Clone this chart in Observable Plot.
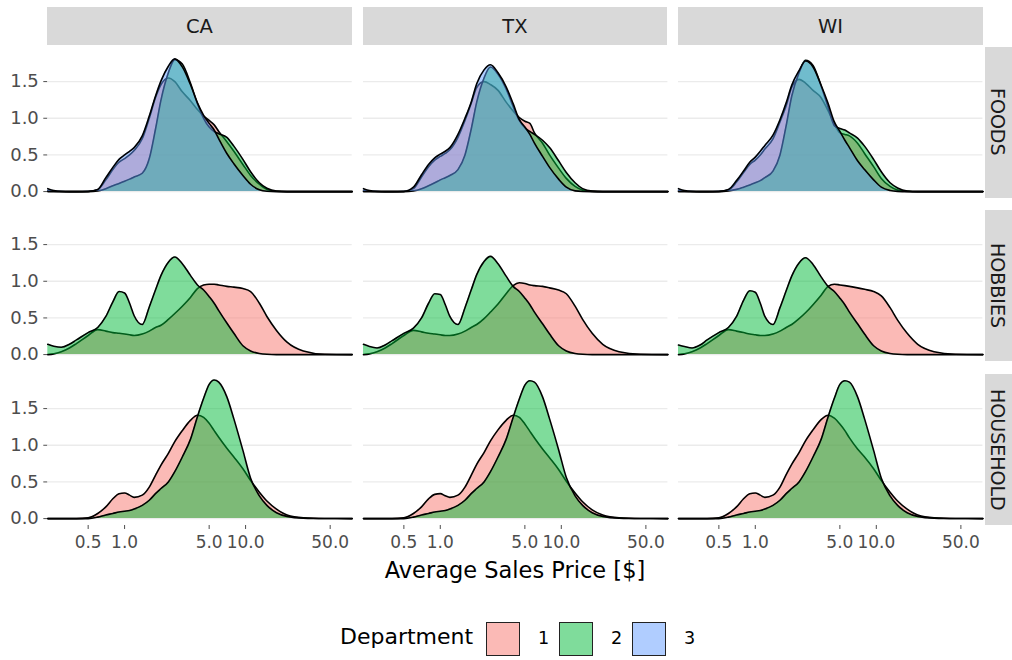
<!DOCTYPE html>
<html>
<head>
<meta charset="utf-8">
<script src="https://cdn.jsdelivr.net/npm/d3@7"></script>
<script src="https://cdn.jsdelivr.net/npm/@observablehq/plot@0.6"></script>
<style>
  body { margin: 0; background: #fff; }
  #chart { position: relative; width: 1012px; height: 660px; overflow: hidden; font-family: "DejaVu Sans", sans-serif; background: #fff; }
  .strip { position: absolute; background: #D9D9D9; color: #1A1A1A; font-size: 19.5px; display: flex; align-items: center; justify-content: center; }
  .strip.right { writing-mode: vertical-rl; font-size: 19px; }
  .txt { position: absolute; line-height: 1; white-space: nowrap; }
  .key { position: absolute; width: 32px; height: 32px; border: 1.6px solid #222; }
</style>
</head>
<body>
<div id="chart"></div>
<script>
// ---- data ----
const prices = [0.232, 0.26, 0.3, 0.35, 0.4, 0.5, 0.6, 0.7, 0.8, 0.9, 1.0, 1.1, 1.2, 1.4, 1.6, 1.8, 2.0, 2.3, 2.6, 3.0, 3.5, 4.0, 4.5, 5.0, 5.5, 6.0, 7.0, 8.0, 9.5, 11, 13, 15, 18, 22, 30, 45, 76];
const yTicks = [0, 0.5, 1.0, 1.5];
const xTicks = [0.5, 1, 5, 10, 50];
const states = ["CA", "TX", "WI"];
const categories = ["FOODS", "HOBBIES", "HOUSEHOLD"];
const departments = ["1", "2", "3"];
const deptColors = ["#F8766D", "#00BA38", "#619CFF"];

const CA_FOODS_1 = [0.01,0.005,0.001,0,0,0.002,0.025,0.16,0.3,0.4,0.45,0.5,0.56,0.72,1.0,1.28,1.46,1.55,1.5,1.36,1.24,1.12,1.03,0.97,0.91,0.82,0.68,0.55,0.37,0.22,0.1,0.03,0.004,0,0,0,0];
const CA_FOODS_2 = [0,0,0,0,0,0,0.01,0.04,0.08,0.11,0.14,0.17,0.2,0.25,0.45,0.85,1.25,1.62,1.8,1.74,1.48,1.2,1.0,0.88,0.82,0.79,0.74,0.62,0.44,0.27,0.12,0.045,0.006,0,0,0,0];
const CA_FOODS_3 = [0.04,0.015,0.003,0,0,0.003,0.03,0.19,0.33,0.44,0.5,0.55,0.6,0.76,1.03,1.3,1.51,1.71,1.81,1.7,1.46,1.21,1.04,0.93,0.84,0.72,0.52,0.38,0.22,0.1,0.025,0.005,0,0,0,0,0];

const TX_FOODS_1 = [0.01,0.005,0.001,0,0,0.002,0.04,0.2,0.34,0.43,0.48,0.52,0.57,0.74,0.97,1.2,1.42,1.5,1.46,1.38,1.22,1.1,1.01,0.96,0.93,0.8,0.66,0.5,0.32,0.18,0.07,0.02,0.003,0,0,0,0];
const TX_FOODS_2 = [0,0,0,0,0,0,0.01,0.04,0.08,0.12,0.16,0.19,0.22,0.3,0.5,0.85,1.22,1.55,1.7,1.6,1.4,1.16,0.97,0.87,0.82,0.78,0.7,0.6,0.42,0.26,0.12,0.04,0.006,0,0,0,0];
const TX_FOODS_3 = [0.04,0.015,0.003,0,0,0.003,0.06,0.23,0.37,0.46,0.51,0.55,0.6,0.78,1.0,1.22,1.47,1.66,1.73,1.62,1.43,1.2,0.98,0.88,0.78,0.66,0.48,0.33,0.17,0.06,0.01,0.002,0,0,0,0,0];

const WI_FOODS_1 = [0.01,0.005,0.001,0,0,0.002,0.02,0.13,0.26,0.37,0.43,0.5,0.58,0.72,0.95,1.17,1.42,1.53,1.48,1.38,1.28,1.1,0.92,0.8,0.78,0.76,0.66,0.52,0.34,0.18,0.07,0.02,0.003,0,0,0,0];
const WI_FOODS_2 = [0,0,0,0,0,0,0.01,0.03,0.06,0.09,0.12,0.15,0.19,0.28,0.5,0.9,1.3,1.62,1.79,1.72,1.44,1.15,0.9,0.86,0.84,0.8,0.73,0.62,0.44,0.27,0.12,0.05,0.008,0,0,0,0];
const WI_FOODS_3 = [0.04,0.015,0.003,0,0,0.003,0.03,0.15,0.28,0.4,0.47,0.55,0.63,0.77,0.98,1.21,1.45,1.65,1.78,1.7,1.45,1.2,0.95,0.82,0.7,0.6,0.42,0.3,0.16,0.06,0.015,0.003,0,0,0,0,0];

const CA_HOBBIES_1 = [0,0.01,0.04,0.09,0.15,0.26,0.34,0.32,0.3,0.29,0.28,0.27,0.26,0.28,0.32,0.37,0.4,0.48,0.56,0.66,0.78,0.9,0.95,0.96,0.96,0.95,0.93,0.92,0.9,0.86,0.7,0.52,0.33,0.17,0.05,0.005,0];
const CA_HOBBIES_2 = [0.14,0.115,0.1,0.14,0.2,0.3,0.37,0.52,0.72,0.86,0.84,0.7,0.53,0.41,0.65,0.88,1.08,1.26,1.33,1.24,1.08,0.95,0.88,0.79,0.7,0.6,0.43,0.29,0.12,0.05,0.015,0.004,0,0,0,0,0];

const TX_HOBBIES_1 = [0,0.01,0.04,0.09,0.15,0.26,0.33,0.31,0.29,0.28,0.27,0.26,0.26,0.28,0.32,0.37,0.41,0.49,0.58,0.69,0.83,0.94,0.98,0.97,0.95,0.94,0.93,0.91,0.88,0.83,0.66,0.48,0.29,0.14,0.04,0.004,0];
const TX_HOBBIES_2 = [0.14,0.11,0.09,0.13,0.19,0.29,0.36,0.5,0.7,0.83,0.82,0.68,0.52,0.41,0.64,0.88,1.09,1.27,1.34,1.24,1.07,0.93,0.86,0.77,0.68,0.58,0.42,0.28,0.12,0.05,0.015,0.004,0,0,0,0,0];

const WI_HOBBIES_1 = [0,0.01,0.04,0.09,0.15,0.26,0.34,0.32,0.3,0.28,0.27,0.26,0.26,0.28,0.32,0.37,0.41,0.49,0.57,0.68,0.81,0.93,0.96,0.95,0.94,0.93,0.91,0.89,0.86,0.8,0.64,0.47,0.29,0.14,0.04,0.004,0];
const WI_HOBBIES_2 = [0.13,0.11,0.09,0.13,0.2,0.3,0.37,0.52,0.74,0.87,0.85,0.7,0.52,0.41,0.64,0.87,1.07,1.25,1.32,1.23,1.06,0.93,0.86,0.77,0.68,0.58,0.42,0.28,0.12,0.05,0.015,0.004,0,0,0,0,0];

const CA_HOUSEHOLD_1 = [0,0,0,0,0,0.01,0.07,0.16,0.27,0.34,0.35,0.32,0.29,0.32,0.43,0.59,0.73,0.89,1.05,1.2,1.34,1.41,1.38,1.3,1.2,1.11,0.96,0.84,0.68,0.52,0.36,0.24,0.13,0.05,0.012,0.002,0];
const CA_HOUSEHOLD_2 = [0,0,0,0,0,0,0.02,0.05,0.07,0.09,0.1,0.11,0.13,0.18,0.25,0.34,0.41,0.5,0.64,0.84,1.08,1.39,1.64,1.83,1.89,1.86,1.66,1.36,0.93,0.55,0.31,0.18,0.08,0.03,0.006,0.001,0];

const TX_HOUSEHOLD_1 = [0,0,0,0,0,0.01,0.07,0.16,0.27,0.33,0.34,0.31,0.29,0.32,0.43,0.59,0.74,0.9,1.06,1.21,1.34,1.41,1.38,1.29,1.19,1.1,0.95,0.83,0.67,0.51,0.35,0.23,0.12,0.05,0.012,0.002,0];
const TX_HOUSEHOLD_2 = [0,0,0,0,0,0,0.02,0.05,0.07,0.09,0.1,0.11,0.13,0.18,0.25,0.34,0.41,0.5,0.64,0.84,1.08,1.38,1.63,1.82,1.88,1.86,1.66,1.36,0.94,0.56,0.31,0.18,0.08,0.03,0.006,0.001,0];

const WI_HOUSEHOLD_1 = [0,0,0,0,0,0.01,0.07,0.16,0.27,0.34,0.35,0.32,0.29,0.32,0.43,0.6,0.74,0.9,1.06,1.21,1.35,1.41,1.37,1.29,1.2,1.1,0.95,0.84,0.68,0.52,0.36,0.24,0.13,0.05,0.012,0.002,0];
const WI_HOUSEHOLD_2 = [0,0,0,0,0,0,0.02,0.05,0.07,0.09,0.1,0.11,0.13,0.18,0.25,0.34,0.41,0.5,0.64,0.84,1.08,1.39,1.64,1.83,1.88,1.86,1.66,1.36,0.93,0.55,0.31,0.18,0.08,0.03,0.006,0.001,0];

const densities = {
  CA: {FOODS: [CA_FOODS_1, CA_FOODS_2, CA_FOODS_3], HOBBIES: [CA_HOBBIES_1, CA_HOBBIES_2], HOUSEHOLD: [CA_HOUSEHOLD_1, CA_HOUSEHOLD_2]},
  TX: {FOODS: [TX_FOODS_1, TX_FOODS_2, TX_FOODS_3], HOBBIES: [TX_HOBBIES_1, TX_HOBBIES_2], HOUSEHOLD: [TX_HOUSEHOLD_1, TX_HOUSEHOLD_2]},
  WI: {FOODS: [WI_FOODS_1, WI_FOODS_2, WI_FOODS_3], HOBBIES: [WI_HOBBIES_1, WI_HOBBIES_2], HOUSEHOLD: [WI_HOUSEHOLD_1, WI_HOUSEHOLD_2]}
};

// ---- layout ----
const colLeft = [47.3, 362.7, 678.3];
const panelW = 304.4;
const rowTop = [46.5, 210.4, 374.3];
const panelH = 151;
const chart = document.getElementById("chart");
const fmt1 = d => d.toFixed(1);

function addDiv(cls, text, css) {
  const d = document.createElement("div");
  d.className = cls;
  d.textContent = text;
  Object.assign(d.style, css);
  chart.appendChild(d);
  return d;
}

categories.forEach((cat, r) => {
  states.forEach((st, c) => {
    const ml = c === 0 ? colLeft[0] : 0;
    const mb = r === 2 ? 40 : 0;
    const marks = [Plot.ruleY(yTicks, {stroke: "#EBEBEB", strokeWidth: 1.3})];
    densities[st][cat].forEach((vals, i) => {
      const rows = prices.map((p, j) => ({price: p, density: vals[j], dept: departments[i]}));
      marks.push(Plot.areaY(rows, {x: "price", y: "density", fill: deptColors[i], fillOpacity: 0.5, curve: "monotone-x"}));
      marks.push(Plot.lineY(rows, {x: "price", y: "density", stroke: "#000", strokeWidth: 1.6, curve: "monotone-x"}));
    });
    if (r === 2) {
      marks.push(Plot.text(xTicks, {x: d => d, text: fmt1, frameAnchor: "bottom", lineAnchor: "top", dy: 10, fill: "#4D4D4D", fontSize: 17}));
    }
    const svg = Plot.plot({
      width: panelW + ml,
      height: panelH + mb,
      marginLeft: ml, marginRight: 0, marginTop: 0, marginBottom: mb,
      x: {type: "log", domain: [0.232, 76], ticks: xTicks, tickFormat: () => "", tickSize: 4, tickPadding: 6, label: null, axis: r === 2 ? "bottom" : null},
      y: {domain: [-0.094, 1.965], ticks: yTicks, tickFormat: fmt1, tickSize: 4, tickPadding: 5, label: null, axis: c === 0 ? "left" : null},
      style: {fontFamily: "DejaVu Sans, sans-serif", fontSize: "18px", color: "#4D4D4D", background: "transparent", overflow: "visible"},
      marks
    });
    svg.style.position = "absolute";
    svg.style.left = (colLeft[c] - ml) + "px";
    svg.style.top = rowTop[r] + "px";
    svg.style.maxWidth = "none";
    chart.appendChild(svg);
  });
});

// strips
states.forEach((st, c) => addDiv("strip", st, {left: colLeft[c] + "px", top: "7px", width: panelW + "px", height: "38px"}));
categories.forEach((cat, r) => addDiv("strip right", cat, {left: "984.5px", top: rowTop[r] + "px", width: "27.5px", height: panelH + "px"}));

// axis title
addDiv("txt", "Average Sales Price [$]", {left: colLeft[0] + "px", width: (colLeft[2] + panelW - colLeft[0]) + "px", textAlign: "center", top: "559px", fontSize: "22.5px", color: "#000"});

// legend
addDiv("txt", "Department", {left: "340px", top: "626px", fontSize: "22px", color: "#000"});
const keyLeft = [486, 559, 632];
departments.forEach((d, i) => {
  const k = addDiv("key", "", {left: keyLeft[i] + "px", top: "622px"});
  k.style.background = d3.color(deptColors[i]).copy({opacity: 0.5}).formatRgb();
  addDiv("txt", d, {left: (keyLeft[i] + 52) + "px", top: "630px", fontSize: "17.6px", color: "#000"});
});
</script>
</body>
</html>
